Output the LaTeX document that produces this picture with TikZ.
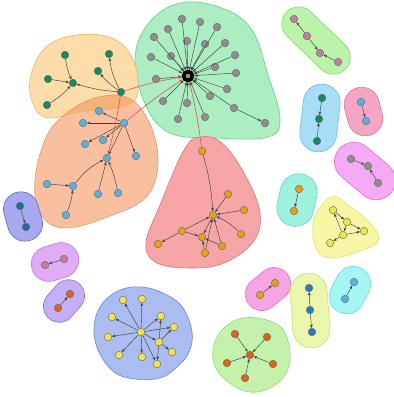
\documentclass[tikz,border=0pt]{standalone}
\usetikzlibrary{arrows.meta,shapes.misc}
\definecolor{cGray}{HTML}{8E8E8E}
\definecolor{cDGreen}{HTML}{17895C}
\definecolor{cLBlue}{HTML}{5AB0E2}
\definecolor{cGold}{HTML}{E6A014}
\definecolor{cYellow}{HTML}{F0E44A}
\definecolor{cORed}{HTML}{DD6414}
\definecolor{cMauve}{HTML}{C67AA6}
\definecolor{cTeal}{HTML}{186E9E}
\definecolor{cBlue}{HTML}{2A7AC2}
\definecolor{cRedEdge}{HTML}{D25050}
% hull colours
\definecolor{fGreen}{RGB}{172,238,194}\definecolor{bGreen}{RGB}{96,208,140}
\definecolor{fRed}{RGB}{245,165,165}\definecolor{bRed}{RGB}{228,116,116}
\definecolor{fOrange}{RGB}{252,220,168}\definecolor{bOrange}{RGB}{240,180,96}
\definecolor{fSalmon}{RGB}{249,192,160}\definecolor{bSalmon}{RGB}{234,148,104}
\definecolor{fOverlap}{RGB}{246,178,120}
\definecolor{fBlueY}{RGB}{170,188,240}\definecolor{bBlueY}{RGB}{104,134,222}
\definecolor{fLGreen}{RGB}{196,241,172}\definecolor{bLGreen}{RGB}{144,222,104}
\definecolor{fYellow}{RGB}{248,246,164}\definecolor{bYellow}{RGB}{228,226,116}
\definecolor{fA}{RGB}{168,168,240}\definecolor{bA}{RGB}{100,100,212}
\definecolor{fV}{RGB}{224,172,246}\definecolor{bV}{RGB}{192,114,230}
\definecolor{fW}{RGB}{196,174,246}\definecolor{bW}{RGB}{152,108,220}
\definecolor{fC}{RGB}{186,244,170}\definecolor{bC}{RGB}{124,220,104}
\definecolor{fD}{RGB}{168,222,245}\definecolor{bD}{RGB}{104,188,228}
\definecolor{fE}{RGB}{245,166,196}\definecolor{bE}{RGB}{226,108,162}
\definecolor{fF}{RGB}{245,170,245}\definecolor{bF}{RGB}{222,108,222}
\definecolor{fH}{RGB}{160,240,222}\definecolor{bH}{RGB}{94,220,190}
\definecolor{fM}{RGB}{245,166,226}\definecolor{bM}{RGB}{226,108,204}
\definecolor{fN}{RGB}{234,246,172}\definecolor{bN}{RGB}{202,224,116}
\definecolor{fP}{RGB}{166,245,245}\definecolor{bP}{RGB}{94,222,230}
\tikzset{
  nd/.style={circle, draw=black!60, line width=0.4pt, fill=#1, inner sep=0pt, minimum size=7.6pt},
  ed/.style={draw=black!75, line width=0.45pt, -{Stealth[length=3.4pt,width=2.8pt]}},
  red ed/.style={draw=cRedEdge, line width=0.55pt, -{Stealth[length=3.6pt,width=3pt,fill=red]}},
  hullbox/.style={rounded rectangle, line width=0.6pt, inner sep=0pt},
  hull/.style={line width=0.6pt}
}
\begin{document}
\begin{tikzpicture}[x=1pt,y=-1pt]
\path[use as bounding box, fill=white] (0,0) rectangle (394,397);

% ---------------- big hulls ----------------
\filldraw[hull, fill=fGreen, draw=bGreen]
  plot[smooth cycle, tension=0.65] coordinates {(180,3) (222,8) (252,30) (268,75) (280,118) (268,137) (215,138) (170,133) (146,106) (135,60) (148,24)};
\filldraw[hull, fill=fRed, draw=bRed]
  plot[smooth cycle, tension=0.65] coordinates {(200,137) (222,143) (245,175) (260,213) (253,242) (224,263) (192,268) (157,263) (146,243) (160,205) (184,150)};
\fill[fOrange]
  plot[smooth cycle, tension=0.65] coordinates {(77,35) (114,39) (134,62) (137,95) (122,107) (80,112) (50,118) (35,108) (30,80) (45,48)};
\fill[fSalmon]
  plot[smooth cycle, tension=0.65] coordinates {(92,99) (126,97) (148,120) (158,160) (147,196) (110,216) (64,228) (40,213) (35,180) (45,140) (62,117)};
\begin{scope}
\clip plot[smooth cycle, tension=0.65] coordinates {(92,99) (126,97) (148,120) (158,160) (147,196) (110,216) (64,228) (40,213) (35,180) (45,140) (62,117)};
\fill[fOverlap]
  plot[smooth cycle, tension=0.65] coordinates {(77,35) (114,39) (134,62) (137,95) (122,107) (80,112) (50,118) (35,108) (30,80) (45,48)};
\end{scope}
\draw[hull, draw=bOrange]
  plot[smooth cycle, tension=0.65] coordinates {(77,35) (114,39) (134,62) (137,95) (122,107) (80,112) (50,118) (35,108) (30,80) (45,48)};
\draw[hull, draw=bSalmon]
  plot[smooth cycle, tension=0.65] coordinates {(92,99) (126,97) (148,120) (158,160) (147,196) (110,216) (64,228) (40,213) (35,180) (45,140) (62,117)};
\filldraw[hull, fill=fBlueY, draw=bBlueY]
  plot[smooth cycle, tension=0.65] coordinates {(118,291) (142,287) (167,295) (183,308) (192,332) (189,352) (177,367) (160,378) (135,379) (114,372) (99,352) (94,330) (100,307)};
\filldraw[hull, fill=fLGreen, draw=bLGreen]
  plot[smooth cycle, tension=0.65] coordinates {(243,318) (270,321) (285,333) (290,360) (280,381) (257,392) (236,387) (217,370) (213,349) (223,329)};
\filldraw[hull, fill=fYellow, draw=bYellow]
  plot[smooth cycle, tension=0.65] coordinates {(331,197) (347,204) (371,224) (378,241) (360,251) (331,258) (316,248) (314,219)};

% ---------------- small hulls ----------------
\node[hullbox, fill=fA, draw=bA, rotate=-74, minimum width=50pt, minimum height=35pt] (hA) at (23,216.5) {};
\node[hullbox, fill=fV, draw=bV, rotate=17, minimum width=48pt, minimum height=35pt] (hV) at (55,262) {};
\node[hullbox, fill=fW, draw=bW, rotate=49, minimum width=46pt, minimum height=32pt] (hW) at (64,301) {};
\node[hullbox, fill=fC, draw=bC, rotate=-44, minimum width=82pt, minimum height=34pt] (hC) at (316,40.5) {};
\node[hullbox, fill=fD, draw=bD, rotate=-96.5, minimum width=68pt, minimum height=37pt] (hD) at (320,118) {};
\node[hullbox, fill=fE, draw=bE, rotate=-75, minimum width=49pt, minimum height=35pt] (hE) at (363.5,111.5) {};
\node[hullbox, fill=fF, draw=bF, rotate=-40, minimum width=68pt, minimum height=39pt] (hF) at (365,171) {};
\node[hullbox, fill=fH, draw=bH, rotate=-102.8, minimum width=53pt, minimum height=37pt] (hH) at (297,200) {};
\node[hullbox, fill=fM, draw=bM, rotate=39, minimum width=49pt, minimum height=33pt] (hM) at (268,289) {};
\node[hullbox, fill=fN, draw=bN, rotate=-86, minimum width=75pt, minimum height=37pt] (hN) at (310,310.5) {};
\node[hullbox, fill=fP, draw=bP, rotate=62, minimum width=49pt, minimum height=35pt] (hP) at (350,290) {};

% ---------------- nodes ----------------
\node[circle, draw=black, line width=3.6pt, fill=cGray, inner sep=0pt, minimum size=9pt] (g0) at (188,76) {};
\foreach \n/\x/\y in {1/182/19, 2/200/22, 3/217/27, 4/168/29, 5/154/37, 6/187/41, 7/205/44, 8/225/43, 9/151/57, 10/171/56, 11/235/55, 12/215/67, 13/236/73, 14/156/79, 15/227/89, 16/210/96, 17/163/101, 18/187/103, 19/234/108, 20/178/119, 21/205/117, 22/265/123}
  \node[nd=cGray] (g\n) at (\x,\y) {};
\foreach \n/\x/\y in {1/65/55, 2/109/54, 3/48/79, 4/98/71, 5/73/83, 6/121/92, 7/47/105}
  \node[nd=cDGreen] (o\n) at (\x,\y) {};
\foreach \n/\x/\y in {1/99/111, 2/83/123, 3/124/123, 4/103/140, 5/85/144, 6/136/156, 7/107/158, 8/47/184, 9/73/186, 10/98/194, 11/118/193, 12/66/215}
  \node[nd=cLBlue] (s\n) at (\x,\y) {};
\foreach \n/\x/\y in {1/202/151, 2/228/194, 3/213/215, 4/244/210, 5/182/231, 6/241/234, 7/202/237, 8/158/244, 9/222/246, 10/205/253}
  \node[nd=cGold] (r\n) at (\x,\y) {};
\foreach \n/\x/\y in {0/141/332, 1/123/300, 2/142/299, 3/112/317, 4/161/316, 5/174/327, 6/108/337, 7/119/355, 8/142/357, 9/172/352, 10/157/364, 11/159/342}
  \node[nd=cYellow] (y\n) at (\x,\y) {};
\node[nd=cTeal] (a1) at (20,206) {};
\node[nd=cTeal] (a2) at (26,227) {};
\node[nd=cMauve] (v1) at (64,259) {};
\node[nd=cMauve] (v2) at (45,265) {};
\node[nd=cORed] (w1) at (58,308) {};
\node[nd=cORed] (w2) at (70,294) {};
\foreach \n/\x/\y in {1/294/19, 2/307/36, 3/320/53, 4/338/62}
  \node[nd=cMauve] (c\n) at (\x,\y) {};
\foreach \n/\x/\y in {1/322/98, 2/319/119, 3/317/141}
  \node[nd=cDGreen] (d\n) at (\x,\y) {};
\node[nd=cLBlue] (e1) at (361,102) {};
\node[nd=cLBlue] (e2) at (366,121) {};
\foreach \n/\x/\y in {1/351/159, 2/368/166, 3/378/183}
  \node[nd=cGray] (f\n) at (\x,\y) {};
\node[nd=cGold] (h1) at (299,189) {};
\node[nd=cGold] (h2) at (294,211) {};
\foreach \n/\x/\y in {1/333/210, 2/347/222, 3/364/231, 4/343/235, 5/330/243}
  \node[nd=cYellow] (k\n) at (\x,\y) {};
\node[nd=cGold] (m1) at (260,295) {};
\node[nd=cGold] (m2) at (275,283) {};
\foreach \n/\x/\y in {1/309/288, 2/310/310, 3/312/332}
  \node[nd=cBlue] (n\n) at (\x,\y) {};
\node[nd=cLBlue] (p1) at (354,282) {};
\node[nd=cLBlue] (p2) at (345,299) {};
\foreach \n/\x/\y in {0/250/355, 1/235/334, 2/267/337, 3/227/363, 4/273/364, 5/245/378}
  \node[nd=cORed] (q\n) at (\x,\y) {};

% ---------------- edges ----------------
\foreach \n in {1,...,21}
  \draw[ed] (g\n) -- (g0);
\draw[ed] (g19) -- (g22);

\draw[ed] (o1) to[bend right=8] (o5);
\draw[ed] (o3) -- (o5);
\draw[ed] (o7) to[bend right=8] (o5);
\draw[ed] (o6) to[bend left=6] (o5);
\draw[ed] (o6) to[bend left=8] (o4);
\draw[ed] (o6) to[bend left=10] (o2);

\foreach \n in {1,2,4,5,6}
  \draw[ed] (s3) -- (s\n);
\draw[ed] (s3) -- (s7);
\draw[ed] (s9) to[bend left=12] (s7);
\draw[ed] (s10) -- (s7);
\draw[ed] (s11) to[bend right=6] (s7);
\draw[ed] (s8) -- (s9);
\draw[ed] (s12) to[bend right=8] (s9);

\draw[ed] (r1) to[bend left=6] (r3);
\foreach \n in {2,4,9}
  \draw[ed] (r\n) -- (r3);
\draw[ed] (r6) to[bend right=10] (r3);
\draw[ed] (r5) -- (r3);
\draw[ed] (r5) -- (r8);
\draw[ed] (r5) -- (r7);
\draw[ed] (r10) -- (r7);
\draw[ed] (r9) -- (r7);
\draw[ed] (r3) -- (r7);
\draw[ed] (r10) -- (r3);

\foreach \n in {1,2,3,4,5,6,7,8,10,11}
  \draw[ed] (y0) -- (y\n);
\draw[ed] (y11) -- (y4);
\draw[ed] (y11) -- (y5);
\draw[ed] (y11) -- (y9);
\draw[ed] (y11) -- (y10);

\draw[ed] (a1) -- (a2);
\draw[ed] (v1) -- (v2);
\draw[ed] (w1) -- (w2);
\draw[ed] (c2) -- (c1);
\draw[ed] (c2) -- (c3);
\draw[ed] (c4) -- (c3);
\draw[ed] (d1) -- (d2);
\draw[ed] (d3) -- (d2);
\draw[ed] (e1) -- (e2);
\draw[ed] (f1) -- (f2);
\draw[ed] (f3) -- (f2);
\draw[ed] (h1) -- (h2);
\draw[ed] (k4) -- (k1);
\draw[ed] (k2) -- (k4);
\draw[ed] (k2) -- (k3);
\draw[ed] (k4) -- (k3);
\draw[ed] (k4) -- (k5);
\draw[ed] (k1) -- (k2);
\draw[ed] (m1) -- (m2);
\draw[ed] (n2) -- (n1);
\draw[ed] (n2) -- (n3);
\draw[ed] (p2) -- (p1);
\foreach \n in {1,...,5}
  \draw[ed] (q\n) -- (q0);

% red inter-cluster edges
\draw[red ed] (o6) to[bend left=4] (g0);
\draw[red ed] (s3) to[bend left=3] (g0);
\draw[red ed] (r1) to[bend right=3] (g0);
\draw[red ed] (o6) to[bend left=3] (s7);
\end{tikzpicture}
\end{document}
